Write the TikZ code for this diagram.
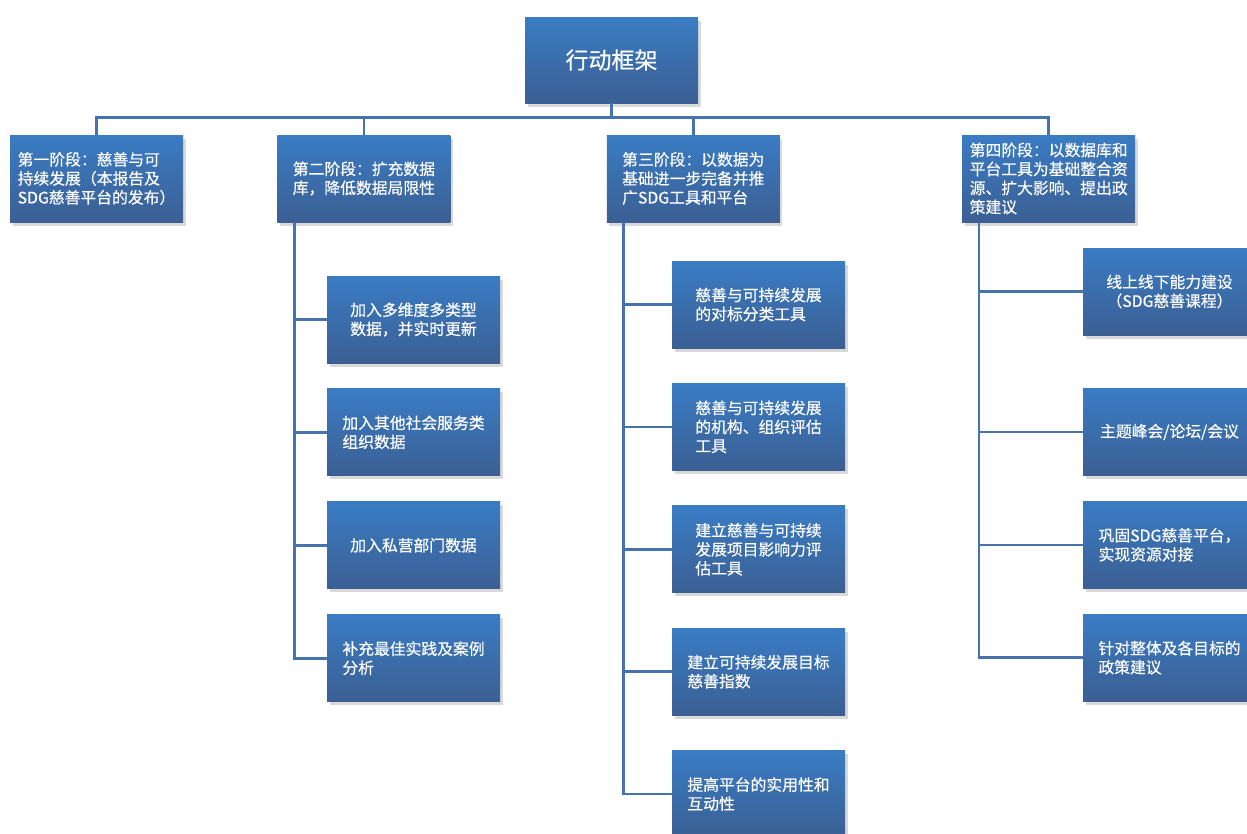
\documentclass[tikz,border=0pt]{standalone}
\usepackage{xcolor}
\usepackage{fontspec}
\setmainfont{Noto Sans CJK SC}[FakeBold=0.4]
\usepackage{tikz}
\usetikzlibrary{positioning,shadows}
\definecolor{frmtop}{HTML}{3A7CC4}
\definecolor{frmbot}{HTML}{3B5F93}
\definecolor{frmline}{HTML}{4872AC}
\tikzset{
  box/.style={draw=none, top color=frmtop, bottom color=frmbot, text=white, align=left, minimum width=173pt, minimum height=87pt, inner sep=0pt, font=\fontsize{15.8}{19}\selectfont, drop shadow={opacity=0.3, shadow xshift=2.5pt, shadow yshift=-3.5pt}},
  titlebox/.style={box, minimum height=86pt, font=\fontsize{23}{27}\selectfont},
  link/.style={draw=frmline, line width=2.6pt}
}

\begin{document}
\begin{tikzpicture}[x=1pt, y=-1pt]
  \useasboundingbox (0,0) rectangle (1247,833);
  \node[titlebox] (top) at (611.5,60) {行动框架};

  \node[box] (s1) at (96.5,178.5) {第一阶段：慈善与可\\持续发展（本报告及\\SDG慈善平台的发布）};
  \node[box, right=94pt of s1] (s2) {第二阶段：扩充数据\\库，降低数据局限性};
  \node[box, right=156pt of s2] (s3) {第三阶段：以数据为\\基础进一步完备并推\\广SDG工具和平台};
  \node[box, right=182pt of s3] (s4) {第四阶段：以数据库和\\平台工具为基础整合资\\源、扩大影响、提出政\\策建议};

  \node[box] (c21) at (413.5,319.5) {加入多维度多类型\\数据，并实时更新};
  \node[box, below=25.5pt of c21] (c22) {加入其他社会服务类\\组织数据};
  \node[box, below=25.5pt of c22] (c23) {加入私营部门数据};
  \node[box, below=25.5pt of c23] (c24) {补充最佳实践及案例\\分析};

  \node[box] (c31) at (758.5,304.5) {慈善与可持续发展\\的对标分类工具};
  \node[box, below=35pt of c31] (c32) {慈善与可持续发展\\的机构、组织评估\\工具};
  \node[box, below=35pt of c32] (c33) {建立慈善与可持续\\发展项目影响力评\\估工具};
  \node[box, below=35pt of c33] (c34) {建立可持续发展目标\\慈善指数};
  \node[box, below=35pt of c34] (c35) {提高平台的实用性和\\互动性};

  \node[box, align=center] (c41) at (1169.5,291.5) {线上线下能力建设\\（SDG慈善课程）};
  \node[box, below=53pt of c41] (c42) {主题峰会/论坛/会议};
  \node[box, below=25.5pt of c42] (c43) {巩固SDG慈善平台，\\实现资源对接};
  \node[box, below=25.5pt of c43] (c44) {针对整体及各目标的\\政策建议};

  \foreach \s in {s1,s2,s3,s4}
    \draw[link] (top.south) -- ++(0,14) -| (\s.north);
  \foreach \c in {c21,c22,c23,c24}
    \draw[link] ([xshift=17pt]s2.south west) |- (\c.west);
  \foreach \c in {c31,c32,c33,c34,c35}
    \draw[link] ([xshift=17pt]s3.south west) |- (\c.west);
  \foreach \c in {c41,c42,c43,c44}
    \draw[link] ([xshift=17pt]s4.south west) |- (\c.west);
\end{tikzpicture}
\end{document}
